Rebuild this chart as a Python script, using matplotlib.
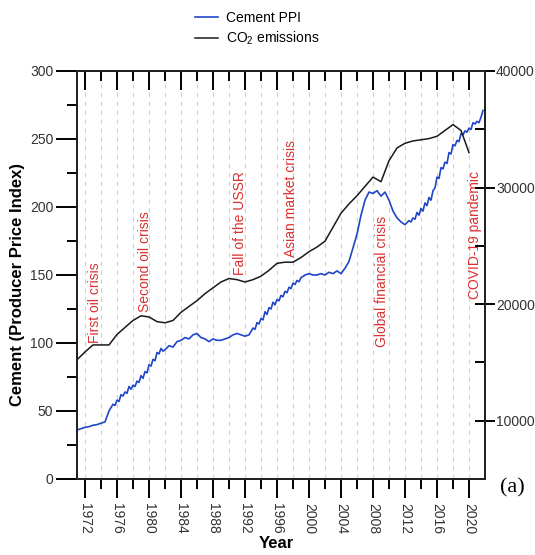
import matplotlib
matplotlib.use("Agg")
import matplotlib.pyplot as plt
from matplotlib.ticker import MultipleLocator, FixedLocator, NullFormatter

plt.rcParams['font.family'] = ['Liberation Sans', 'DejaVu Sans']
plt.rcParams['mathtext.fontset'] = 'custom'
plt.rcParams['mathtext.rm'] = 'Liberation Sans'
plt.rcParams['mathtext.it'] = 'Liberation Sans:italic'

# ---- data ----
ppi_years = [1971.0, 1971.5, 1972.0, 1972.5, 1973.0, 1973.5, 1974.0, 1974.5, 1975.0, 1975.5,
             1975.75, 1976.0, 1976.25, 1976.5, 1976.75, 1977.0, 1977.25, 1977.5, 1977.75,
             1978.0, 1978.25, 1978.5, 1978.75, 1979.0, 1979.25, 1979.5, 1979.75, 1980.0,
             1980.25, 1980.5, 1980.75, 1981.0, 1981.25, 1981.5, 1981.75,
             1982.0, 1982.5, 1983.0, 1983.5, 1984.0, 1984.5, 1985.0, 1985.5,
             1986.0, 1986.5, 1987.0, 1987.5, 1988.0, 1988.5, 1989.0, 1989.5, 1990.0, 1990.5,
             1991.0, 1991.5, 1992.0, 1992.5, 1993.0, 1993.25, 1993.5, 1993.75, 1994.0,
             1994.25, 1994.5, 1994.75, 1995.0, 1995.25, 1995.5, 1995.75,
             1996.0, 1996.25, 1996.5, 1996.75, 1997.0, 1997.25, 1997.5, 1997.75,
             1998.0, 1998.25, 1998.5, 1998.75, 1999.0, 1999.5, 2000.0, 2000.5,
             2001.0, 2001.5, 2002.0, 2002.5, 2003.0, 2003.5, 2004.0, 2004.5, 2005.0, 2005.5,
             2006.0, 2006.5, 2007.0, 2007.5, 2008.0, 2008.5, 2009.0, 2009.5, 2010.0, 2010.5,
             2011.0, 2011.5, 2012.0, 2012.5, 2012.75, 2013.0, 2013.25, 2013.5, 2013.75,
             2014.0, 2014.25, 2014.5, 2014.75, 2015.0, 2015.25, 2015.5, 2015.75,
             2016.0, 2016.25, 2016.5, 2016.75, 2017.0, 2017.25, 2017.5, 2017.75,
             2018.0, 2018.25, 2018.5, 2018.75, 2019.0, 2019.25, 2019.5, 2019.75,
             2020.0, 2020.25, 2020.5, 2020.75, 2021.0, 2021.25, 2021.5, 2021.75]
ppi_values = [36, 37, 38, 38.5, 39.5, 40, 41, 42, 50, 55,
              54, 58, 57, 62, 61, 64, 63, 68, 66,
              69, 68, 72, 71, 76, 74, 79, 78, 84,
              83, 88, 87, 93, 92, 96, 94,
              95, 98, 97, 101, 102, 104, 103, 106,
              107, 104, 103, 101, 103, 102, 102, 103, 104, 106,
              107, 106, 105, 106, 111, 110, 115, 114, 118,
              117, 123, 121, 126, 125, 130, 128,
              132, 131, 135, 134, 138, 137, 141, 140,
              144, 143, 146, 145, 148, 150, 151, 150,
              150, 151, 150, 152, 151, 153, 151, 155, 160, 170,
              180, 194, 205, 211, 210, 212, 208, 211, 205, 197,
              192, 189, 187, 190, 189, 192, 191, 196, 194,
              199, 197, 203, 201, 207, 205, 212, 214,
              222, 221, 229, 228, 233, 232, 240, 239,
              246, 245, 249, 248, 254, 253, 256, 255,
              258, 257, 262, 261, 263, 262, 266, 271]

co2_years = list(range(1971, 2021))
co2_values = [15230, 15900, 16500, 16500, 16500, 17400, 18000, 18600, 19000, 18900,
              18500, 18400, 18600, 19300, 19800, 20300, 20900, 21400, 21900, 22200,
              22100, 21900, 22100, 22400, 22900, 23500, 23600, 23600, 24000, 24500,
              24900, 25400, 26600, 27800, 28600, 29300, 30100, 30900, 30500, 32300,
              33400, 33800, 34000, 34100, 34200, 34400, 34900, 35400, 34900, 33000]

event_labels = ["First oil crisis", "Second oil crisis", "Fall of the USSR",
                "Asian market crisis", "Global financial crisis", "COVID-19 pandemic"]
event_x = [1973.25, 1979.5, 1991.4, 1997.75, 2009.1, 2020.75]
event_y = [100, 123, 150, 163, 97, 132]

year_ticks = list(range(1972, 2021, 4))

# ---- figure ----
fig = plt.figure(figsize=(5.35, 5.55), dpi=100)
ax = fig.add_axes([77/535, 1-479/555, 408/535, 408/555])
ax2 = ax.twinx()

for x in range(1972, 2022, 2):
    ax.axvline(x, color='#cfcfcf', lw=0.8, ls=(0, (4, 4)), zorder=0)

l1, = ax.plot(ppi_years, ppi_values, color='#1f45c8', lw=1.2, zorder=3)
l2, = ax2.plot(co2_years, co2_values, color='#1a1a1a', lw=1.1, zorder=3)

for lab, x, y in zip(event_labels, event_x, event_y):
    ax.text(x, y, lab, rotation=90, color='#dc3030', fontsize=10,
            ha='center', va='bottom', zorder=4)

ax.set_xlim(1971, 2022)
ax.set_ylim(0, 300)
ax2.set_ylim(5000, 40000)

ax.xaxis.set_major_locator(FixedLocator(year_ticks))
ax.xaxis.set_minor_locator(FixedLocator(list(range(1974, 2021, 4))))
ax.set_xticklabels([str(y) for y in year_ticks], rotation=-90)
ax.yaxis.set_major_locator(MultipleLocator(50))
ax.yaxis.set_minor_locator(MultipleLocator(25))
ax2.yaxis.set_major_locator(FixedLocator([10000, 20000, 30000, 40000]))
ax2.yaxis.set_minor_locator(FixedLocator([15000, 25000, 35000]))

lblc = '#333333'
ax.tick_params(axis='x', which='major', direction='out', length=14, width=1.4, pad=3,
               labelsize=10, labelcolor=lblc)
ax.tick_params(axis='x', which='minor', direction='out', length=7, width=1.4)
ax.tick_params(axis='y', which='major', direction='out', length=15, width=1.4, pad=2,
               labelsize=10, labelcolor=lblc)
ax.tick_params(axis='y', which='minor', direction='out', length=7, width=1.4)
ax2.tick_params(axis='y', which='major', direction='inout', length=14, width=1.4, pad=1,
                labelsize=10, labelcolor=lblc)
ax2.tick_params(axis='y', which='minor', direction='in', length=7, width=1.4)

sec = ax.secondary_xaxis('top')
sec.xaxis.set_major_locator(FixedLocator(year_ticks))
sec.xaxis.set_minor_locator(FixedLocator(list(range(1974, 2021, 4))))
sec.xaxis.set_major_formatter(NullFormatter())
sec.tick_params(axis='x', which='major', direction='in', length=14, width=1.4)
sec.tick_params(axis='x', which='minor', direction='in', length=7, width=1.4)

for a in (ax, ax2):
    for s in a.spines.values():
        s.set_linewidth(1.4)
        s.set_color('#222222')
sec.spines['top'].set_linewidth(1.4)

fig.text(18/535, 1-285/555, 'Cement (Producer Price Index)', rotation=90,
         fontsize=12, fontweight='bold', ha='center', va='center')
fig.text(276/535, 1-543/555, 'Year', fontsize=12, fontweight='bold',
         ha='center', va='center')
fig.text(512/535, 1-488/555, '(a)', fontsize=16, family='Liberation Serif',
         ha='center', va='center')

fig.legend([l1, l2], ['Cement PPI', 'CO$_2$ emissions'], loc='center left',
           bbox_to_anchor=(195/535, 1-29/555), frameon=False, fontsize=10,
           handlelength=1.65, handletextpad=0.55, labelspacing=0.35,
           borderpad=0, borderaxespad=0)

fig.savefig('out.png', dpi=100)
